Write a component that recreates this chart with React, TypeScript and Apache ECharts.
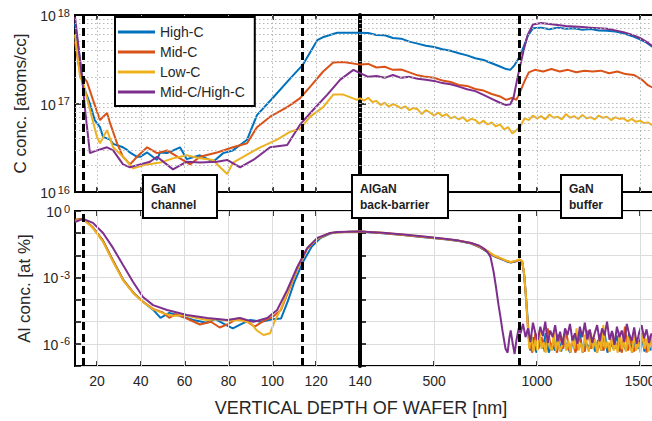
import React, { useEffect, useRef } from "react";
import * as echarts from "echarts";

// ---------- labels & styling constants ----------
const SERIES_NAMES = ["High-C", "Mid-C", "Low-C", "Mid-C/High-C"];
const SERIES_COLORS = ["#0072BD", "#D95319", "#EDB120", "#7E2F8E"];
const X_TICKS_LEFT = [20, 40, 60, 80, 100, 120, 140];
const X_TICKS_RIGHT = [500, 1000, 1500];
const X_GRID_LEFT = [20, 40, 60, 80, 100, 120];
const C_GRID_LINES = [2e16, 3e16, 4e16, 5e16, 6e16, 7e16, 8e16, 9e16, 1e17, 2e17, 3e17, 4e17, 5e17, 6e17, 7e17, 8e17, 9e17];
const INTERFACES_LEFT = [13.7, 113.5];
const INTERFACES_RIGHT = [916];
const REGION_LABELS = ["GaN\nchannel", "AlGaN\nback-barrier", "GaN\nbuffer"];
const X_TITLE = "VERTICAL DEPTH OF WAFER [nm]";
const Y_TITLE_TOP = "C conc. [atoms/cc]";
const Y_TITLE_BOTTOM = "Al conc. [at %]";

// ---------- C concentration [atoms/cc], depth 10–140 nm ----------
const highC_C_left = [[10, 8e17], [12, 3.5e17], [13.7, 1.6e17], [16.8, 1e17], [19, 6.5e16], [21.4, 5.4e16], [22.8, 4.2e16], [26, 3.9e16], [27.4, 3.5e16], [31.9, 3.2e16], [33.7, 3e16], [35, 2.8e16], [38.3, 2.5e16], [39.7, 2.5e16], [42.9, 2.8e16], [47.4, 2.3e16], [48.8, 2.8e16], [52, 2.75e16], [57.9, 3.2e16], [61, 2.35e16], [67, 2.6e16], [73, 2.2e16], [77.6, 2.75e16], [82, 2.95e16], [85.3, 3.4e16], [88.5, 3.9e16], [93, 7.4e16], [100.4, 1.17e17], [108, 1.9e17], [114, 2.75e17], [120.5, 5.2e17], [123, 5.6e17], [129.6, 6.3e17], [140, 6.3e17]];
const midC_C_left = [[10, 5e17], [12.3, 2.2e17], [15.5, 1.75e17], [18.2, 1.1e17], [21.4, 6.5e16], [24.6, 7.8e16], [26, 6e16], [29.2, 3.55e16], [31.9, 2.5e16], [35.1, 2.05e16], [38.3, 2.5e16], [42.9, 3.2e16], [47.4, 2.75e16], [52, 2.95e16], [57.9, 2.4e16], [62.5, 2.05e16], [67, 2.5e16], [74.8, 2.8e16], [82.1, 3.2e16], [88.5, 3.55e16], [93, 5.4e16], [99, 7.1e16], [106.8, 9.1e16], [112.7, 1.15e17], [117.3, 1.55e17], [123.2, 2.3e17], [127.8, 2.9e17], [132.4, 2.95e17], [140, 2.75e17]];
const lowC_C_left = [[10, 6e17], [12.3, 2e17], [13.7, 1.7e17], [16.8, 8.5e16], [20, 4.2e16], [21.4, 3.55e16], [24.6, 5e16], [27.4, 3.2e16], [31.9, 2.5e16], [36.5, 1.85e16], [42.9, 2.05e16], [48.8, 2.15e16], [54.7, 2.4e16], [61, 2.6e16], [67, 2.4e16], [73, 2.3e16], [76.2, 1.9e16], [79.4, 1.6e16], [82.1, 2.15e16], [86.7, 2.5e16], [94.5, 3.2e16], [102.2, 3.9e16], [108.2, 4.8e16], [112.7, 5.2e16], [117.3, 7.1e16], [123.2, 9.1e16], [127.8, 1.26e17], [132.4, 1.26e17], [138.6, 1.1e17], [140, 1.15e17]];
const mixC_C_left = [[10, 9.5e17], [11.4, 4.8e17], [13.2, 2e17], [14.6, 8.5e16], [16.8, 2.75e16], [20, 2.95e16], [24.6, 3.2e16], [27.4, 2.95e16], [31.9, 2.05e16], [35.1, 1.9e16], [39.7, 2.05e16], [44.2, 2.2e16], [47.4, 2.5e16], [54.7, 1.8e16], [61, 2.2e16], [67, 2.15e16], [74.8, 2.2e16], [79.4, 2.3e16], [85.3, 1.9e16], [91.3, 2.3e16], [99, 3.2e16], [106.8, 3.4e16], [112.7, 5.8e16], [118.7, 8.5e16], [125.1, 1.26e17], [131, 1.86e17], [137, 2.4e17], [140, 2.2e17]];

// ---------- C concentration [atoms/cc], depth 140–1600 nm ----------
const highC_C_right = [[140, 6.3e17], [180, 6.25e17], [220, 5.95e17], [260, 5.9e17], [300, 5.5e17], [340, 5.4e17], [380, 5.0e17], [420, 4.75e17], [460, 4.5e17], [500, 4.35e17], [540, 4.1e17], [580, 3.95e17], [620, 3.7e17], [660, 3.5e17], [700, 3.25e17], [740, 3.1e17], [780, 2.85e17], [820, 2.62e17], [850, 2.45e17], [870, 2.4e17], [890, 2.7e17], [906, 3.1e17], [920, 3.6e17], [935, 4.4e17], [955, 5.8e17], [980, 7.1e17], [1020, 7.2e17], [1060, 6.9e17], [1100, 7.2e17], [1140, 7.0e17], [1180, 7.1e17], [1220, 6.8e17], [1260, 6.95e17], [1300, 6.7e17], [1340, 6.65e17], [1380, 6.5e17], [1420, 6.2e17], [1460, 5.8e17], [1500, 5.3e17], [1530, 4.9e17], [1565, 4.3e17]];
const midC_C_right = [[140, 2.75e17], [180, 2.8e17], [220, 2.55e17], [260, 2.6e17], [300, 2.4e17], [340, 2.42e17], [380, 2.25e17], [420, 2.08e17], [460, 2.0e17], [500, 1.95e17], [540, 1.82e17], [580, 1.75e17], [620, 1.62e17], [660, 1.58e17], [700, 1.46e17], [740, 1.4e17], [780, 1.28e17], [820, 1.2e17], [850, 1.1e17], [880, 1.16e17], [900, 1.1e17], [920, 1.4e17], [940, 1.8e17], [960, 2.25e17], [990, 2.4e17], [1030, 2.3e17], [1070, 2.45e17], [1110, 2.3e17], [1150, 2.4e17], [1190, 2.25e17], [1230, 2.35e17], [1270, 2.3e17], [1310, 2.35e17], [1350, 2.2e17], [1390, 2.3e17], [1430, 2.15e17], [1470, 2.1e17], [1510, 1.85e17], [1540, 1.6e17], [1565, 1.5e17]];
const lowC_C_right_depth = [140, 160, 180, 200, 220, 240, 260, 280, 300, 320, 340, 360, 380, 400, 420, 440, 460, 480, 500, 520, 540, 560, 580, 600, 620, 640, 660, 680, 700, 720, 740, 760, 780, 800, 820, 840, 860, 880, 900, 920, 940, 960, 980, 1000, 1020, 1040, 1060, 1080, 1100, 1120, 1140, 1160, 1180, 1200, 1220, 1240, 1260, 1280, 1300, 1320, 1340, 1360, 1380, 1400, 1420, 1440, 1460, 1480, 1500, 1520, 1540, 1560];
const lowC_C_right_value = [1.15e17, 1.08e17, 1.16e17, 1.04e17, 1.07e17, 9.6e16, 1.02e17, 9.2e16, 9.9e16, 9.4e16, 8.8e16, 9.3e16, 8.4e16, 8.9e16, 8.6e16, 7.6e16, 8.4e16, 7.9e16, 7.3e16, 7.9e16, 7.2e16, 7.6e16, 6.8e16, 7.1e16, 6.6e16, 7.0e16, 6.3e16, 6.7e16, 6.5e16, 5.9e16, 6.4e16, 5.8e16, 6.1e16, 5.5e16, 5.8e16, 5.1e16, 5.4e16, 4.6e16, 5.0e16, 5.6e16, 6.8e16, 6.5e16, 7.3e16, 6.8e16, 7.2e16, 6.6e16, 7.5e16, 6.9e16, 7.1e16, 6.6e16, 7.6e16, 6.9e16, 7.2e16, 6.7e16, 7.4e16, 6.8e16, 7.0e16, 6.6e16, 7.3e16, 6.9e16, 7.1e16, 6.5e16, 7.0e16, 6.7e16, 6.8e16, 6.3e16, 6.7e16, 6.2e16, 6.4e16, 6.0e16, 6.1e16, 5.7e16];
const mixC_C_right = [[140, 2.2e17], [180, 2.0e17], [220, 2.05e17], [260, 1.95e17], [300, 2.1e17], [340, 1.95e17], [380, 2.0e17], [420, 1.9e17], [460, 1.85e17], [500, 1.8e17], [540, 1.7e17], [580, 1.65e17], [620, 1.55e17], [660, 1.45e17], [700, 1.38e17], [740, 1.25e17], [780, 1.13e17], [820, 1.02e17], [850, 9.6e16], [870, 9.8e16], [886, 1.17e17], [906, 2.0e17], [920, 2.8e17], [935, 4e17], [955, 6e17], [980, 7.8e17], [1020, 8.1e17], [1060, 7.9e17], [1100, 7.7e17], [1140, 7.5e17], [1180, 7.4e17], [1220, 7.3e17], [1260, 7.2e17], [1300, 7.1e17], [1340, 7.0e17], [1380, 6.7e17], [1420, 6.4e17], [1460, 6.0e17], [1500, 5.5e17], [1530, 5.0e17], [1565, 4.4e17]];

// ---------- Al concentration [at %], depth 10–140 nm ----------
const highC_Al_left = [[10, 0.38], [13.7, 0.45], [18.2, 0.18], [22.8, 0.045], [27.4, 5.5e-3], [31.9, 8e-4], [36.5, 2.1e-4], [41, 8e-5], [45.6, 3.5e-5], [49, 1.5e-5], [53, 2.5e-5], [58, 1.8e-5], [64, 1.2e-5], [70, 9e-6], [74, 1.3e-5], [79, 7e-6], [82, 5e-6], [86, 8e-6], [90, 1.2e-5], [95, 1e-5], [100, 1.3e-5], [104, 1.4e-5], [107, 8e-5], [110, 6e-4], [114, 5e-3], [118, 0.025], [122, 0.06], [126.4, 0.095], [129.6, 0.11], [140, 0.12]];
const midC_Al_left = [[10, 0.4], [13.7, 0.45], [18.2, 0.18], [22.8, 0.045], [27.4, 5.5e-3], [31.9, 8e-4], [36.5, 2.1e-4], [41, 8e-5], [45.6, 3.8e-5], [50, 2.6e-5], [53, 1.5e-5], [56, 2.2e-5], [61, 1.4e-5], [67, 7.5e-6], [72, 1e-5], [76, 5.5e-6], [80, 8e-6], [84, 1.4e-5], [88, 1.1e-5], [92, 6e-6], [96, 1.1e-5], [100, 1.6e-5], [104, 3.5e-5], [108, 3.5e-4], [112, 3.2e-3], [116, 0.02], [120.5, 0.055], [126.4, 0.1], [129.6, 0.11], [140, 0.12]];
const lowC_Al_left = [[10, 0.35], [13.7, 0.44], [18.2, 0.17], [22.8, 0.04], [27.4, 5e-3], [31.9, 7.6e-4], [36.5, 2e-4], [41, 7.8e-5], [45.6, 3.7e-5], [50, 2.45e-5], [55, 1.8e-5], [60, 2e-5], [65, 1.5e-5], [70, 1.2e-5], [75, 1.3e-5], [80, 1.1e-5], [85, 1.2e-5], [90, 9e-6], [93, 4e-6], [96, 2.5e-6], [99, 3e-6], [101, 1e-5], [104, 4e-5], [108, 4e-4], [112, 3.5e-3], [116, 0.022], [120.5, 0.055], [126.4, 0.1], [129.6, 0.11], [140, 0.12]];
const mixC_Al_left = [[10, 0.32], [13.7, 0.44], [18.2, 0.29], [22.8, 0.102], [27.4, 0.021], [31.9, 3.6e-3], [36.5, 6.2e-4], [41, 1.3e-4], [45.6, 5.6e-5], [52, 3.4e-5], [61, 2e-5], [70.3, 1.48e-5], [79.4, 1.2e-5], [85.3, 1.48e-5], [91.3, 9.8e-6], [97.7, 1.48e-5], [102.2, 3.4e-5], [106.8, 2.7e-4], [111.4, 2.95e-3], [115.9, 0.021], [120.5, 0.06], [126.4, 0.102], [129.6, 0.112], [140, 0.12]];

// ---------- Al concentration [at %], depth 140–1600 nm ----------
const highC_Al_right_ramp = [[140, 0.12], [250, 0.1], [350, 0.082], [450, 0.066], [550, 0.053], [620, 0.044], [680, 0.034], [725, 0.022], [760, 0.014], [790, 0.0092], [823, 0.007], [850, 0.0054], [872, 0.0047], [895, 0.0052], [915, 0.0062], [928, 0.005], [938, 0.0012], [946, 1.5e-4], [954, 1.5e-5], [960, 2.5e-6]];
const midC_Al_right_ramp = [[140, 0.12], [250, 0.102], [350, 0.083], [450, 0.067], [550, 0.054], [620, 0.045], [680, 0.035], [725, 0.023], [760, 0.015], [790, 0.0095], [823, 0.0072], [850, 0.0056], [872, 0.0048], [895, 0.0054], [915, 0.0064], [928, 0.0052], [937, 0.0014], [945, 1.8e-4], [952, 1.8e-5], [958, 2.5e-6]];
const lowC_Al_right_ramp = [[140, 0.12], [250, 0.103], [350, 0.084], [450, 0.068], [550, 0.055], [620, 0.046], [680, 0.036], [725, 0.024], [760, 0.016], [790, 0.01], [823, 0.0075], [850, 0.0058], [872, 0.005], [895, 0.0056], [915, 0.0066], [928, 0.0055], [937, 0.0015], [945, 2e-4], [952, 2e-5], [958, 2.5e-6]];
const mixC_Al_right_ramp = [[140, 0.12], [250, 0.105], [350, 0.086], [450, 0.07], [550, 0.056], [620, 0.046], [680, 0.036], [720, 0.027], [745, 0.019], [759, 0.014], [774, 0.0083], [789, 0.0018], [800, 4e-4], [813, 5.6e-5], [823, 1.5e-5], [833, 3.5e-6], [847, 6e-7], [857, 4e-7], [866, 2e-6], [872, 4e-6], [882, 1e-6], [891, 3.5e-7], [900, 1.5e-6], [911, 5e-6]];

// background noise floor of the Al signal in the GaN buffer, read point by point
const highC_Al_noise_start = 967; const highC_Al_noise_step = 15;
const highC_Al_noise = [5e-7, 2e-6, 4e-7, 1.4e-6, 6e-7, 3e-6, 4e-7, 1e-6, 5e-7, 2.6e-6, 4.5e-7, 1.6e-6, 7e-7, 4e-7, 2.2e-6, 5e-7, 3.5e-6, 4e-7, 1.2e-6, 6e-7, 2e-6, 4.5e-7, 1.5e-6, 5e-7, 4e-6, 4e-7, 1.1e-6, 6e-7, 2.4e-6, 4.5e-7, 1.3e-6, 5e-7, 2.8e-6, 4e-7, 1.7e-6, 6e-7, 3e-6, 4.5e-7, 1.2e-6, 5e-7];
const midC_Al_noise_start = 962; const midC_Al_noise_step = 15;
const midC_Al_noise = [1.2e-6, 4e-7, 3e-6, 6e-7, 2e-6, 4.5e-7, 5e-6, 7e-7, 1.5e-6, 4e-7, 2.5e-6, 6e-7, 3.5e-6, 5e-7, 1.3e-6, 4e-7, 2.2e-6, 8e-7, 4.5e-7, 4e-6, 6e-7, 1.8e-6, 4e-7, 2.8e-6, 5e-7, 1.1e-6, 4.5e-7, 3.2e-6, 6e-7, 1.6e-6, 4e-7, 6e-6, 5e-7, 2e-6, 4.5e-7, 1.4e-6, 7e-7, 3e-6, 4e-7, 2.3e-6, 5e-7];
const lowC_Al_noise_start = 962; const lowC_Al_noise_step = 10;
const lowC_Al_noise = [6e-7, 2.5e-6, 4.5e-7, 1.5e-6, 5e-7, 4e-6, 6e-7, 1.2e-6, 4e-7, 2.8e-6, 7e-7, 5e-7, 3.5e-6, 5e-7, 1.8e-6, 4.5e-7, 9e-7, 3e-6, 5e-7, 1.4e-6, 4e-7, 2.2e-6, 6e-7, 5e-6, 5e-7, 1.1e-6, 4e-7, 2.6e-6, 8e-7, 4.5e-7, 3.2e-6, 6e-7, 1.6e-6, 4e-7, 2e-6, 5e-7, 7e-6, 6e-7, 1.3e-6, 4.5e-7, 2.4e-6, 5e-7, 1e-6, 4e-7, 3.6e-6, 6e-7, 1.5e-6, 4.5e-7, 2.1e-6, 7e-7, 4e-7, 2.9e-6, 5e-7, 1.2e-6, 4e-7, 4.2e-6, 6e-7, 1.7e-6, 4.5e-7, 2.5e-6, 5e-7];
const mixC_Al_noise_start = 920; const mixC_Al_noise_step = 12;
const mixC_Al_noise = [3e-6, 8e-6, 2e-6, 5e-6, 1.2e-6, 9e-6, 3e-6, 1.5e-6, 6e-6, 2.2e-6, 1e-5, 1.1e-6, 4e-6, 2e-6, 7e-6, 1.3e-6, 3.5e-6, 9e-7, 5e-6, 2.5e-6, 8e-6, 1.4e-6, 3e-6, 1e-6, 6e-6, 2e-6, 9e-6, 1.6e-6, 4.5e-6, 1.1e-6, 3e-6, 7e-6, 1.3e-6, 5e-6, 2.4e-6, 1e-5, 1.5e-6, 3.8e-6, 9e-7, 6e-6, 2e-6, 4e-6, 1.2e-6, 8e-6, 2.6e-6, 1.4e-6, 5.5e-6, 1e-6, 3.2e-6, 7e-6, 1.8e-6, 4.5e-6, 1.1e-6, 3e-6];

// ---------- helpers (build the tables the library needs) ----------
const noisePairs = (start: number, step: number, vals: number[]) => vals.map((v, i) => [start + i * step, v]);
const zip = (xs: number[], ys: number[]) => xs.map((x, i) => [x, ys[i]]);

const TOP_LEFT = [highC_C_left, midC_C_left, lowC_C_left, mixC_C_left];
const TOP_RIGHT = [highC_C_right, midC_C_right, zip(lowC_C_right_depth, lowC_C_right_value), mixC_C_right];
const BOTTOM_LEFT = [highC_Al_left, midC_Al_left, lowC_Al_left, mixC_Al_left];
const BOTTOM_RIGHT = [
  [...highC_Al_right_ramp, ...noisePairs(highC_Al_noise_start, highC_Al_noise_step, highC_Al_noise)],
  [...midC_Al_right_ramp, ...noisePairs(midC_Al_noise_start, midC_Al_noise_step, midC_Al_noise)],
  [...lowC_Al_right_ramp, ...noisePairs(lowC_Al_noise_start, lowC_Al_noise_step, lowC_Al_noise)],
  [...mixC_Al_right_ramp, ...noisePairs(mixC_Al_noise_start, mixC_Al_noise_step, mixC_Al_noise)],
];

const FONT = '"Liberation Sans", Arial, Helvetica, sans-serif';
const TEXT = "#262626";

export default function App() {
  const ref = useRef<HTMLDivElement>(null);
  useEffect(() => {
    document.body.style.margin = "0";
    if (!ref.current) return;
    const chart = echarts.init(ref.current, null, { renderer: "svg" });

    const grids = [
      { left: 75, top: 15, width: 285, height: 177 },
      { left: 360, top: 15, width: 302, height: 177 },
      { left: 75, top: 211, width: 285, height: 155 },
      { left: 360, top: 211, width: 302, height: 155 },
    ].map((g) => ({ ...g, show: true, borderColor: "#000", borderWidth: 2, backgroundColor: "#fff", containLabel: false, outerBoundsMode: "none" }));

    const xRange = (g: number) => (g % 2 === 0 ? { min: 10, max: 140 } : { min: 140, max: 1607 });
    const xTicks = (g: number) => (g % 2 === 0 ? X_TICKS_LEFT : X_TICKS_RIGHT);

    const xAxes: any[] = [];
    for (let g = 0; g < 4; g++) {
      for (const pos of ["bottom", "top"]) {
        const showLabel = g >= 2 && pos === "bottom";
        xAxes.push({
          type: "value",
          gridIndex: g,
          position: pos,
          ...xRange(g),
          axisLine: { show: false },
          axisTick: { show: true, inside: true, length: 5, customValues: xTicks(g), lineStyle: { color: "#000", width: 1.5 } },
          axisLabel: {
            show: showLabel,
            customValues: xTicks(g),
            formatter: (v: number) => String(v),
            margin: 8,
            fontSize: 14,
            color: TEXT,
            fontFamily: FONT,
          },
          splitLine: { show: false },
        });
      }
    }

    const supLabel = (keep: (e: number) => boolean) => ({
      formatter: (v: number) => {
        const e = Math.round(Math.log10(v));
        return keep(e) ? `{b|10}{s|${e}}` : "";
      },
      margin: 5,
      lineHeight: 22,
      rich: {
        b: { fontSize: 14, color: TEXT, fontFamily: FONT, verticalAlign: "bottom", lineHeight: 16 },
        s: { fontSize: 11, color: TEXT, fontFamily: FONT, verticalAlign: "top", lineHeight: 12, padding: [0, 0, 0, 2] },
      },
    });

    const yAxes: any[] = [
      {
        type: "log", logBase: 10, gridIndex: 0, min: 1e16, max: 1e18, splitNumber: 2,
        axisLine: { show: false },
        axisTick: { inside: true, length: 6, lineStyle: { color: "#000", width: 1.5 } },
        axisLabel: supLabel(() => true),
        splitLine: { show: false },
        name: Y_TITLE_TOP, nameLocation: "middle", nameGap: 46,
        nameTextStyle: { fontSize: 17, color: TEXT, fontFamily: FONT },
      },
      {
        type: "log", logBase: 10, gridIndex: 1, min: 1e16, max: 1e18, splitNumber: 2,
        axisLine: { show: true, lineStyle: { color: "#000", width: 4 } },
        axisTick: { inside: true, length: 6, lineStyle: { color: "#000", width: 1.5 } },
        axisLabel: { show: false },
        splitLine: { show: false },
      },
      {
        type: "log", logBase: 10, gridIndex: 2, min: 1e-7, max: 1, splitNumber: 7,
        axisLine: { show: false },
        axisTick: { inside: true, length: 6, lineStyle: { color: "#000", width: 1.5 } },
        axisLabel: supLabel((e) => e === 0 || e === -3 || e === -6),
        splitLine: { show: true, lineStyle: { color: "#dcdcdc", width: 1 } },
        name: Y_TITLE_BOTTOM, nameLocation: "middle", nameGap: 42,
        nameTextStyle: { fontSize: 17, color: TEXT, fontFamily: FONT },
      },
      {
        type: "log", logBase: 10, gridIndex: 3, min: 1e-7, max: 1, splitNumber: 7,
        axisLine: { show: true, lineStyle: { color: "#000", width: 4 } },
        axisTick: { inside: true, length: 6, lineStyle: { color: "#000", width: 1.5 } },
        axisLabel: { show: false },
        splitLine: { show: true, lineStyle: { color: "#dcdcdc", width: 1 } },
      },
    ];

    const panels = [TOP_LEFT, TOP_RIGHT, BOTTOM_LEFT, BOTTOM_RIGHT];
    const series: any[] = [];

    // background grid lines (drawn first, under the curves)
    for (let g = 0; g < 4; g++) {
      const isTop = g < 2;
      const vLines = g % 2 === 0 ? X_GRID_LEFT : X_TICKS_RIGHT;
      const style = isTop
        ? { color: "#b8b8b8", width: 1, type: [1.5, 2.5] }
        : { color: "#dcdcdc", width: 1, type: "solid" };
      const lines: any[] = vLines.map((x) => ({ xAxis: x }));
      if (isTop) C_GRID_LINES.forEach((y) => lines.push({ yAxis: y }));
      series.push({
        type: "line", data: [], xAxisIndex: g * 2, yAxisIndex: g, silent: true, z: 1,
        markLine: { silent: true, symbol: ["none", "none"], label: { show: false }, lineStyle: style, data: lines, animation: false },
      });
    }

    for (let g = 0; g < 4; g++) {
      panels[g].forEach((data, i) => {
        const s: any = {
          type: "line",
          name: SERIES_NAMES[i],
          data,
          xAxisIndex: g * 2,
          yAxisIndex: g,
          showSymbol: false,
          symbol: "none",
          clip: true,
          z: 3,
          lineStyle: { color: SERIES_COLORS[i], width: 2 },
          itemStyle: { color: SERIES_COLORS[i] },
        };
        if (i === 3) {
          const iface = g % 2 === 0 ? INTERFACES_LEFT : INTERFACES_RIGHT;
          s.markLine = {
            silent: true,
            symbol: ["none", "none"],
            label: { show: false },
            lineStyle: { color: "#000", width: 3, type: [8, 4] },
            data: iface.map((x) => ({ xAxis: x })),
            animation: false,
          };
        }
        series.push(s);
      });
    }

    const boxes = [
      { x: 143, w: 74 },
      { x: 352, w: 96 },
      { x: 561, w: 61 },
    ];
    const graphic: any[] = [];
    boxes.forEach((b, i) => {
      graphic.push({
        type: "rect", z: 100,
        shape: { x: b.x, y: 175, width: b.w, height: 43 },
        style: { fill: "#fff", stroke: "#000", lineWidth: 2 },
      });
      graphic.push({
        type: "text", z: 101, x: b.x + 8, y: 181,
        style: { text: REGION_LABELS[i], fill: "#1e1e1e", fontSize: 12, fontWeight: "bold", fontFamily: FONT, lineHeight: 16 },
      });
    });
    graphic.push({
      type: "text", z: 101, x: 361, y: 408,
      style: { text: X_TITLE, fill: TEXT, fontSize: 18, fontFamily: FONT, align: "center", verticalAlign: "middle", textAlign: "center", textVerticalAlign: "middle" },
    });

    chart.setOption({
      animation: false,
      backgroundColor: "#fff",
      grid: grids,
      xAxis: xAxes,
      yAxis: yAxes,
      legend: {
        data: SERIES_NAMES,
        orient: "vertical",
        left: 115,
        top: 17,
        padding: [8, 10, 7, 3],
        itemGap: 6,
        icon: "rect",
        itemWidth: 37,
        itemHeight: 3,
        backgroundColor: "#fff",
        borderColor: "#000",
        borderWidth: 2,
        borderRadius: 0,
        textStyle: { fontSize: 14, color: TEXT, fontFamily: FONT, lineHeight: 14 },
        z: 50,
      },
      series,
      graphic,
    });

    return () => chart.dispose();
  }, []);

  return <div ref={ref} style={{ width: 652, height: 421 }} />;
}
